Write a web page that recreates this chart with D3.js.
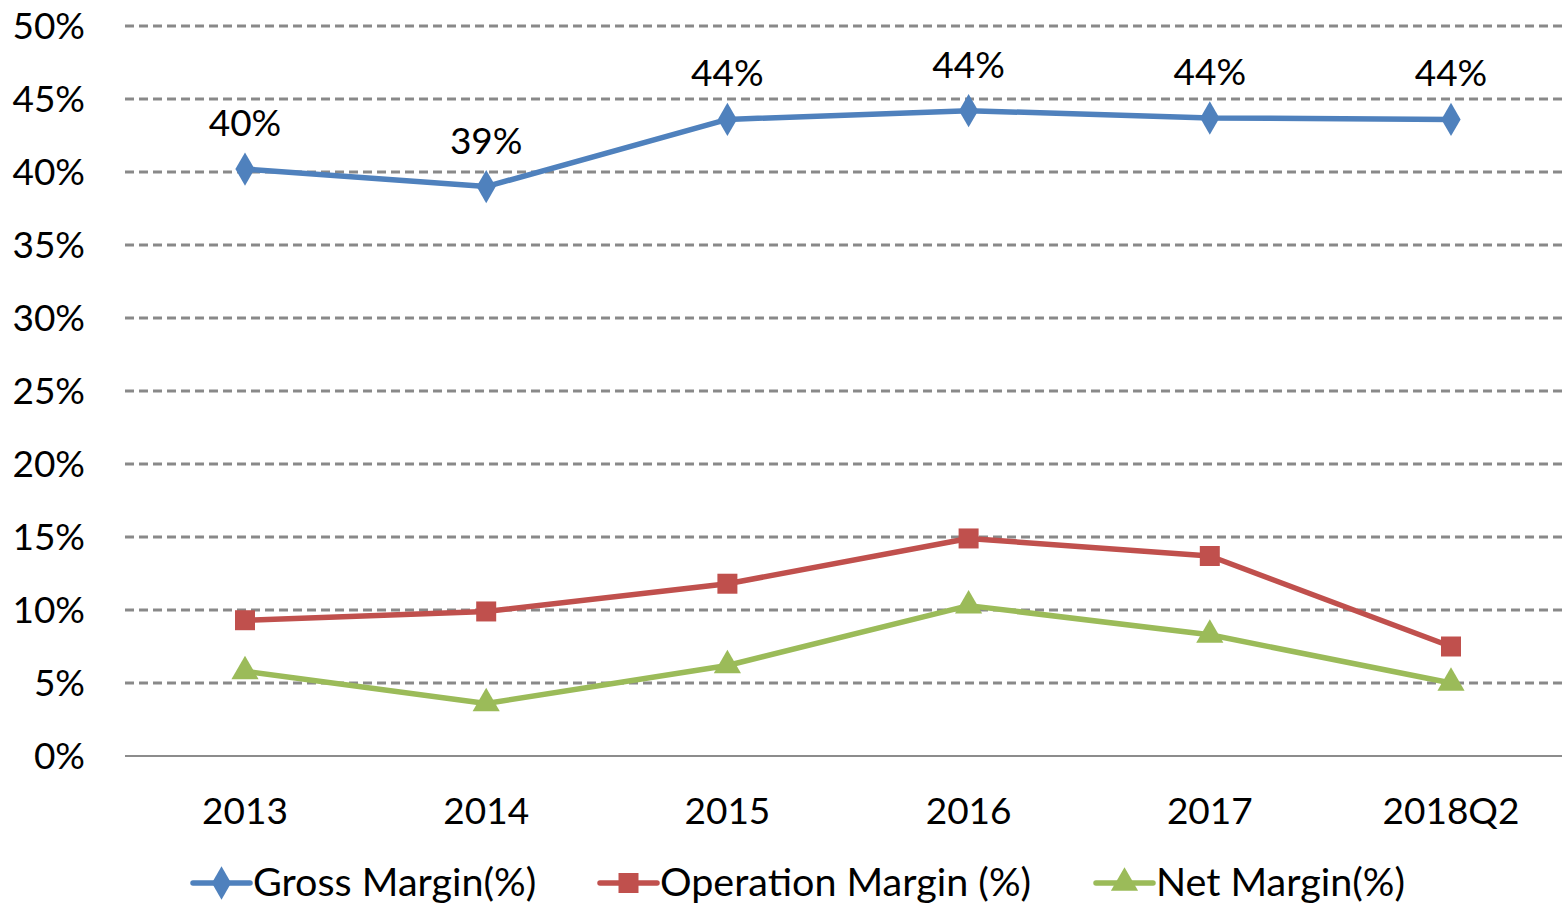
<!DOCTYPE html>
<html><head><meta charset="utf-8">
<script src="https://cdn.jsdelivr.net/npm/d3@7"></script>
<style>body{margin:0;background:#fff}svg{display:block}text{font-family:Lato,"Open Sans",sans-serif;fill:#000}</style>
</head><body><svg id="c" width="1562" height="906"></svg>
<script>
const categories = ["2013","2014","2015","2016","2017","2018Q2"];
const grossMargin = [40.2, 39.0, 43.6, 44.2, 43.7, 43.6];
const operationMargin = [9.3, 9.9, 11.8, 14.9, 13.7, 7.5];
const netMargin = [5.8, 3.6, 6.2, 10.3, 8.3, 5.0];
const grossLabels = ["40%","39%","44%","44%","44%","44%"];
const yTicks = [0,5,10,15,20,25,30,35,40,45,50];
const seriesNames = ["Gross Margin(%)","Operation Margin (%)","Net Margin(%)"];

const svg = d3.select("#c");
const x = d3.scalePoint().domain(categories).range([245, 1451]);
const y = d3.scaleLinear().domain([0,50]).range([756, 26]);
const gridL = 125, gridR = 1562;

// gridlines
svg.append("g").selectAll("line").data(yTicks.filter(d=>d>0)).join("line")
  .attr("x1",gridL).attr("x2",gridR).attr("y1",d=>y(d)).attr("y2",d=>y(d))
  .attr("stroke","#898989").attr("stroke-width",3).attr("stroke-dasharray","9,5");
svg.append("line").attr("x1",gridL).attr("x2",gridR).attr("y1",y(0)).attr("y2",y(0))
  .attr("stroke","#8c8c8c").attr("stroke-width",2);

// y labels
svg.append("g").selectAll("text").data(yTicks).join("text")
  .attr("x",85).attr("y",d=>y(d)).attr("dy","0.36em").attr("text-anchor","end")
  .attr("font-size",37).text(d=>d+"%");
// x labels
svg.append("g").selectAll("text").data(categories).join("text")
  .attr("x",d=>x(d)).attr("y",824).attr("text-anchor","middle")
  .attr("font-size",37).text(d=>d);

const series = [
  {name:seriesNames[0], vals:grossMargin, color:"#4F81BD", sym:d3.symbolDiamond, size:320},
  {name:seriesNames[1], vals:operationMargin, color:"#C0504D", sym:d3.symbolSquare, size:400},
  {name:seriesNames[2], vals:netMargin, color:"#9BBB59", sym:d3.symbolTriangle, size:320}
];
const line = d3.line().x((d,i)=>x(categories[i])).y(d=>y(d));
series.forEach(s=>{
  svg.append("path").datum(s.vals).attr("d",line).attr("fill","none")
    .attr("stroke",s.color).attr("stroke-width",5.5).attr("stroke-linejoin","round");
  svg.append("g").selectAll("path").data(s.vals).join("path")
    .attr("transform",(d,i)=>`translate(${x(categories[i])},${y(d)})`)
    .attr("d",d3.symbol().type(s.sym).size(s.size)).attr("fill",s.color);
});
// gross labels
svg.append("g").selectAll("text").data(grossMargin).join("text")
  .attr("x",(d,i)=>x(categories[i])).attr("y",d=>y(d)-33).attr("text-anchor","middle")
  .attr("font-size",37).text((d,i)=>grossLabels[i]);

// legend
const legX = [193, 600, 1096];
series.forEach((s,i)=>{
  const g = svg.append("g").attr("transform",`translate(${legX[i]},883)`);
  g.append("line").attr("x1",0).attr("x2",57).attr("stroke",s.color).attr("stroke-width",5.5).attr("stroke-linecap","round");
  g.append("path").attr("transform","translate(28.5,0)").attr("d",d3.symbol().type(s.sym).size(s.size)).attr("fill",s.color);
  g.append("text").attr("x",60).attr("dy","0.34em").attr("font-size",39.5).text(s.name);
});
</script></body></html>
